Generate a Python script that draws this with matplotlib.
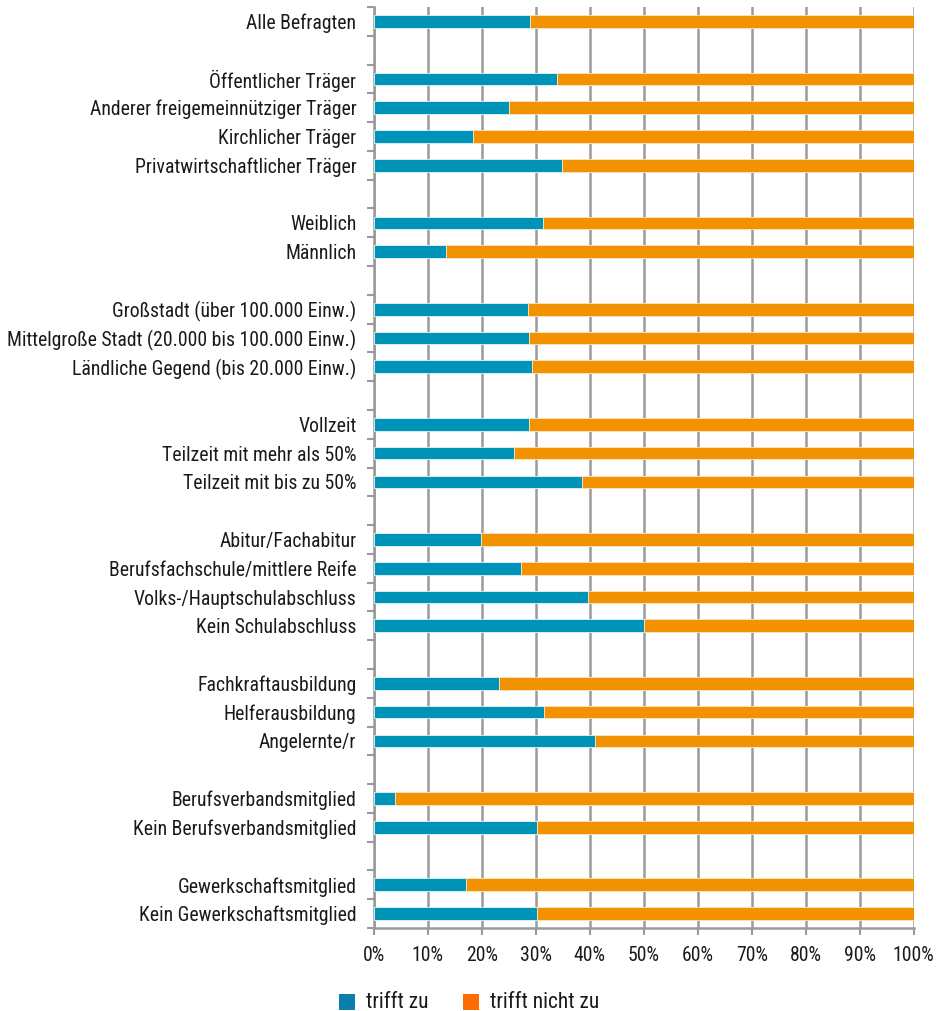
import matplotlib
matplotlib.use("Agg")
import matplotlib.pyplot as plt
from matplotlib.patches import Rectangle
from matplotlib.ticker import FixedLocator, PercentFormatter
from matplotlib import font_manager

# ---- data ----
groups = [
    ["Alle Befragten"],
    ["Öffentlicher Träger", "Anderer freigemeinnütziger Träger", "Kirchlicher Träger",
     "Privatwirtschaftlicher Träger"],
    ["Weiblich", "Männlich"],
    ["Großstadt (über 100.000 Einw.)", "Mittelgroße Stadt (20.000 bis 100.000 Einw.)",
     "Ländliche Gegend (bis 20.000 Einw.)"],
    ["Vollzeit", "Teilzeit mit mehr als 50%", "Teilzeit mit bis zu 50%"],
    ["Abitur/Fachabitur", "Berufsfachschule/mittlere Reife", "Volks-/Hauptschulabschluss",
     "Kein Schulabschluss"],
    ["Fachkraftausbildung", "Helferausbildung", "Angelernte/r"],
    ["Berufsverbandsmitglied", "Kein Berufsverbandsmitglied"],
    ["Gewerkschaftsmitglied", "Kein Gewerkschaftsmitglied"],
]
trifft_zu = [
    [28.9],
    [34.0, 25.0, 18.4, 34.9],
    [31.4, 13.3],
    [28.6, 28.8, 29.4],
    [28.8, 25.9, 38.6],
    [19.8, 27.3, 39.7, 50.0],
    [23.2, 31.5, 40.9],
    [3.9, 30.2],
    [17.1, 30.2],
]
series_names = ["trifft zu", "trifft nicht zu"]
xticks = [0, 10, 20, 30, 40, 50, 60, 70, 80, 90, 100]

# ---- font ----
avail = {f.name for f in font_manager.fontManager.ttflist}
fam = None
for cand in ["Liberation Sans Narrow", "DejaVu Sans Condensed", "Roboto Condensed", "Roboto"]:
    if cand in avail:
        fam = cand
        break
if fam:
    plt.rcParams['font.family'] = [fam, 'DejaVu Sans']

FS = 14.2
BLUE = "#0093B8"
ORANGE = "#F39200"
GRID = "#9a9a9a"
TEXT = "#1a1a1a"

# build slots with blank rows between groups
labels, vals = [], []
for gi, (g, v) in enumerate(zip(groups, trifft_zu)):
    if gi > 0:
        labels.append("")
        vals.append(None)
    labels.extend(g)
    vals.extend(v)

n = len(labels)
pos = list(range(n))

W, H = 944, 1011
fig = plt.figure(figsize=(W / 100, H / 100), dpi=100)
ax = fig.add_axes([373.7 / W, 1 - 928 / H, 540 / W, 921 / H])

bar_h = 0.44
for p, v in zip(pos, vals):
    if v is None:
        continue
    ax.barh(p, v, height=bar_h, color=BLUE, edgecolor="#e8f4f8", linewidth=0.6, zorder=3)
    ax.barh(p, 100 - v, left=v, height=bar_h, color=ORANGE, edgecolor="#fbe6c8",
            linewidth=0.6, zorder=3)

ax.set_xlim(0, 100)
ax.set_ylim(n - 0.5, -0.5)

ax.set_yticks(pos)
ax.set_yticklabels(labels, fontsize=FS, color=TEXT)
ax.yaxis.set_minor_locator(FixedLocator([k - 0.5 for k in range(n + 1)]))
ax.tick_params(axis='y', which='major', length=0, pad=12.5)
ax.tick_params(axis='y', which='minor', length=5, width=1.5, color=GRID, direction='out')

ax.set_xticks(xticks)
ax.xaxis.set_major_formatter(PercentFormatter(decimals=0))
ax.tick_params(axis='x', which='major', length=5, width=1.5, color=GRID, labelsize=FS,
               labelcolor=TEXT, pad=8)

ax.grid(axis='x', color=GRID, linewidth=1.8, zorder=0)
ax.set_axisbelow(True)
for s in ["top", "right"]:
    ax.spines[s].set_visible(False)
for s in ["left", "bottom"]:
    ax.spines[s].set_color(GRID)
    ax.spines[s].set_linewidth(1.8)

# legend drawn manually in pixel-based figure coordinates
leg_colors = ["#0A7FAE", "#FF6C00"]
leg_x = [339, 463]
for x0, c, name in zip(leg_x, leg_colors, series_names):
    fig.patches.append(Rectangle((x0 / W, 1 - 1010 / H), 16 / W, 16 / H,
                                 transform=fig.transFigure, facecolor=c, edgecolor="none"))
    fig.text((x0 + 27) / W, 1 - 1002 / H, name, fontsize=15.5, va="center", ha="left",
             color=TEXT)

fig.savefig("out.png", dpi=100)
